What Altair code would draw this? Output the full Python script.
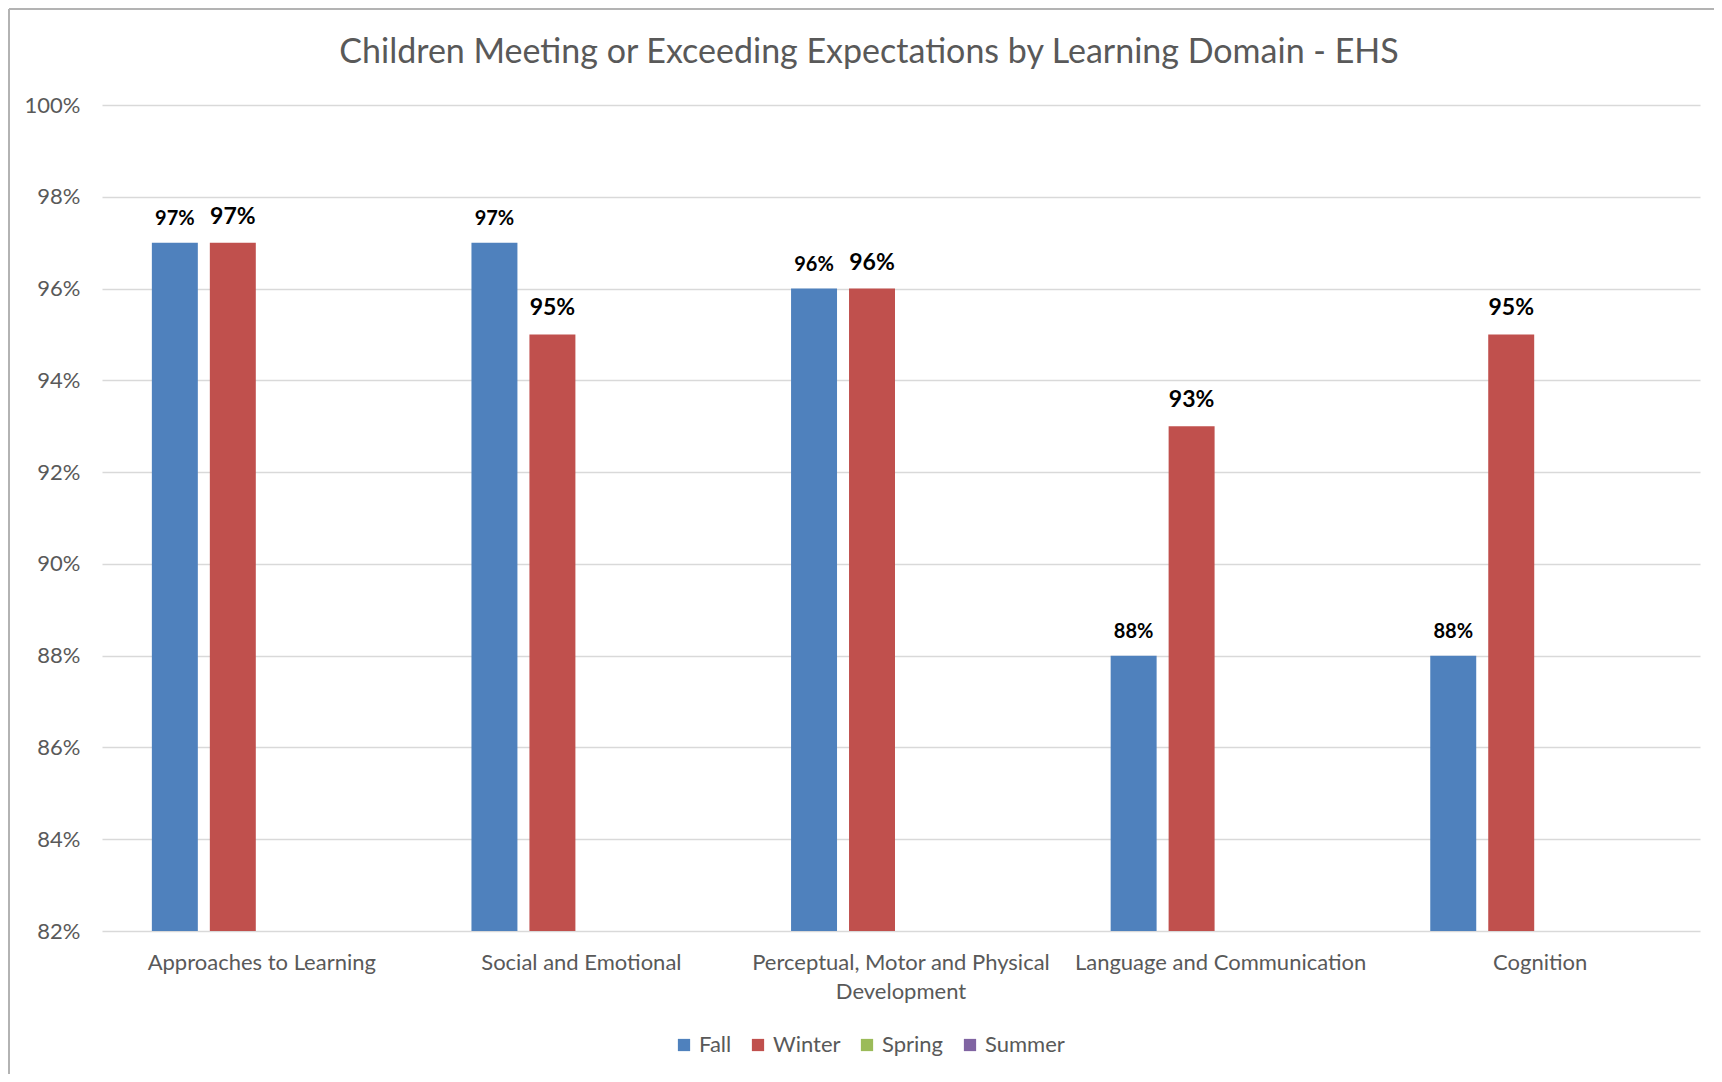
import altair as alt
import pandas as pd

categories = [
    "Approaches to Learning",
    "Social and Emotional",
    "Perceptual, Motor and Physical Development",
    "Language and Communication",
    "Cognition",
]
fall = [0.97, 0.97, 0.96, 0.88, 0.88]
winter = [0.97, 0.95, 0.96, 0.93, 0.95]
seasons = ["Fall", "Winter", "Spring", "Summer"]
season_colors = ["#4F81BD", "#C0504D", "#9BBB59", "#8064A2"]
y_ticks = [0.82, 0.84, 0.86, 0.88, 0.90, 0.92, 0.94, 0.96, 0.98, 1.00]

rows = []
for c, f, w in zip(categories, fall, winter):
    rows.append({"domain": c, "season": "Fall", "value": f})
    rows.append({"domain": c, "season": "Winter", "value": w})
df = pd.DataFrame(rows)

FONT = "Lato"
GRAY = "#595959"
W, H = 1598, 826

x_enc = alt.X(
    "domain:N",
    sort=categories,
    title=None,
    scale=alt.Scale(paddingInner=0.312, paddingOuter=0.156),
    axis=alt.Axis(
        labelAngle=0,
        labelFontSize=22,
        labelColor=GRAY,
        labelFont=FONT,
        labelPadding=21,
        ticks=False,
        domain=False,
        labelLimit=400,
        labelExpr="datum.value == 'Perceptual, Motor and Physical Development' ? ['Perceptual, Motor and Physical', 'Development'] : datum.value",
        labelLineHeight=29,
    ),
)
xo_enc = alt.XOffset(
    "season:N",
    scale=alt.Scale(domain=seasons, paddingInner=0.207, paddingOuter=0),
)
y_enc = alt.Y(
    "value:Q",
    title=None,
    scale=alt.Scale(domain=[0.82, 1.0], zero=False, nice=False),
    axis=alt.Axis(
        values=y_ticks,
        format=".0%",
        labelFontSize=22,
        labelColor=GRAY,
        labelFont=FONT,
        labelPadding=22,
        ticks=False,
        domain=False,
        gridColor="#d9d9d9",
        gridWidth=1.5,
    ),
)

base = alt.Chart(df)

bars = base.mark_bar().encode(
    x=x_enc,
    xOffset=xo_enc,
    y=y_enc,
    y2=alt.datum(0.82),
    color=alt.Color(
        "season:N",
        scale=alt.Scale(domain=seasons, range=season_colors),
        legend=alt.Legend(
            title=None,
            orient="none",
            legendX=571,
            legendY=929,
            direction="horizontal",
            symbolType="square",
            symbolSize=150,
            symbolStrokeWidth=0,
            labelFontSize=22,
            labelColor=GRAY,
            labelFont=FONT,
            labelOffset=4,
            columnPadding=15,
        ),
    ),
)

labels = base.mark_text(
    baseline="bottom", dy=-14, fontWeight="bold", color="black", font=FONT
).encode(
    x=alt.X("domain:N", sort=categories),
    xOffset=alt.XOffset("season:N", scale=alt.Scale(domain=seasons)),
    y=alt.Y("value:Q"),
    text=alt.Text("value:Q", format=".0%"),
    size=alt.Size(
        "season:N",
        scale=alt.Scale(domain=["Fall", "Winter"], range=[20, 23]),
        legend=None,
    ),
)

border_left = alt.Chart(df).mark_rule(color="#b3b3b3", strokeWidth=1.5).encode(
    x=alt.value(-93), y=alt.value(-96), y2=alt.value(H + 160)
)
border_top = alt.Chart(df).mark_rule(color="#b3b3b3", strokeWidth=1.5).encode(
    x=alt.value(-93), x2=alt.value(W + 30), y=alt.value(-96)
)

chart = (
    alt.layer(bars, labels, border_left, border_top)
    .properties(
        width=W,
        height=H,
        title=alt.TitleParams(
            "Children Meeting or Exceeding Expectations by Learning Domain - EHS",
            fontSize=34,
            font=FONT,
            fontWeight="normal",
            color=GRAY,
            anchor="middle",
            offset=-62,
            dx=-32,
        ),
        autosize=alt.AutoSizeParams(type="none"),
        padding={"left": 94, "top": 97, "right": 14, "bottom": 143},
    )
    .configure_view(stroke=None)
)

chart.save("out.html", embed_options={"renderer": "svg", "actions": False})
